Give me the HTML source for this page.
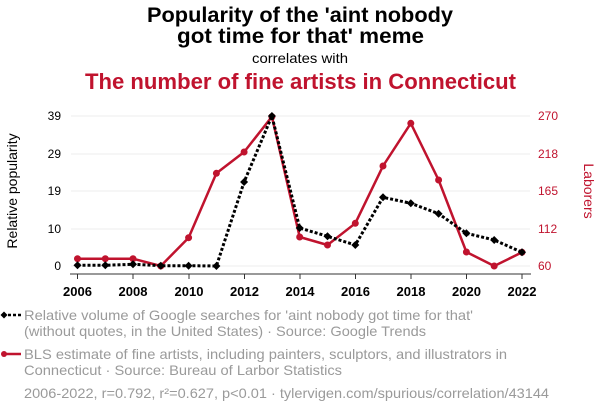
<!DOCTYPE html>
<html><head><meta charset="utf-8"><style>
html,body{margin:0;padding:0;background:#fff;width:600px;height:414px;overflow:hidden}
svg{display:block;font-family:"Liberation Sans",sans-serif}
</style></head><body>
<svg width="600" height="414" viewBox="0 0 600 414" xmlns="http://www.w3.org/2000/svg">
<text x="147" y="22" textLength="306" lengthAdjust="spacingAndGlyphs" font-size="21" font-weight="bold" fill="#000">Popularity of the 'aint nobody</text>
<text x="177" y="43" textLength="247" lengthAdjust="spacingAndGlyphs" font-size="21" font-weight="bold" fill="#000">got time for that' meme</text>
<text x="252" y="63" textLength="96" lengthAdjust="spacingAndGlyphs" font-size="14" fill="#000">correlates with</text>
<text x="85" y="89" textLength="431" lengthAdjust="spacingAndGlyphs" font-size="22" font-weight="bold" fill="#c0132e">The number of fine artists in Connecticut</text>
<g stroke="#eee" stroke-width="1">
<line x1="71" x2="530" y1="116" y2="116"/><line x1="71" x2="530" y1="154" y2="154"/><line x1="71" x2="530" y1="191" y2="191"/><line x1="71" x2="530" y1="229" y2="229"/><line x1="71" x2="530" y1="266" y2="266"/>
</g>
<line x1="70" x2="531" y1="274" y2="274" stroke="#333" stroke-width="1"/>
<g stroke="#333" stroke-width="1">
<line x1="77.5" x2="77.5" y1="274" y2="279"/><line x1="133" x2="133" y1="274" y2="279"/><line x1="189" x2="189" y1="274" y2="279"/><line x1="244.5" x2="244.5" y1="274" y2="279"/><line x1="300" x2="300" y1="274" y2="279"/><line x1="355.5" x2="355.5" y1="274" y2="279"/><line x1="411" x2="411" y1="274" y2="279"/><line x1="466.5" x2="466.5" y1="274" y2="279"/><line x1="522" x2="522" y1="274" y2="279"/>
</g>
<g font-size="13" font-weight="bold" text-anchor="middle" fill="#000">
<text x="77.5" y="296">2006</text><text x="133" y="296">2008</text><text x="189" y="296">2010</text><text x="244.5" y="296">2012</text><text x="300" y="296">2014</text><text x="355.5" y="296">2016</text><text x="411" y="296">2018</text><text x="466.5" y="296">2020</text><text x="522" y="296">2022</text>
</g>
<g font-size="12" text-anchor="end" fill="#000">
<text x="61" y="120">39</text><text x="61" y="158">29</text><text x="61" y="195">19</text><text x="61" y="233">10</text><text x="61" y="270">0</text>
</g>
<g font-size="12" fill="#c0132e">
<text x="538" y="120">270</text><text x="538" y="158">218</text><text x="538" y="195">165</text><text x="538" y="233">112</text><text x="538" y="270">60</text>
</g>
<text transform="translate(17,191) rotate(-90)" text-anchor="middle" font-size="14" fill="#000">Relative popularity</text>
<text transform="translate(584,191) rotate(90)" text-anchor="middle" font-size="14" fill="#c0132e">Laborers</text>
<polyline fill="none" stroke="#c0132e" stroke-width="2.5" stroke-linejoin="round" points="77.5,258.7 105.3,258.7 133,258.7 160.8,266 188.6,237.7 216.4,173.3 244.1,152 271.9,116.7 299.7,237 327.5,245 355.3,223.3 383,166 410.8,123.3 438.6,180 466.4,252 494.2,266 522,252.3"/>
<g fill="#c0132e">
<circle cx="77.5" cy="258.7" r="3.5"/><circle cx="105.3" cy="258.7" r="3.5"/><circle cx="133" cy="258.7" r="3.5"/><circle cx="160.8" cy="266" r="3.5"/><circle cx="188.6" cy="237.7" r="3.5"/><circle cx="216.4" cy="173.3" r="3.5"/><circle cx="244.1" cy="152" r="3.5"/><circle cx="271.9" cy="116.7" r="3.5"/><circle cx="299.7" cy="237" r="3.5"/><circle cx="327.5" cy="245" r="3.5"/><circle cx="355.3" cy="223.3" r="3.5"/><circle cx="383" cy="166" r="3.5"/><circle cx="410.8" cy="123.3" r="3.5"/><circle cx="438.6" cy="180" r="3.5"/><circle cx="466.4" cy="252" r="3.5"/><circle cx="494.2" cy="266" r="3.5"/><circle cx="522" cy="252.3" r="3.5"/>
</g>
<polyline fill="none" stroke="#000" stroke-width="3" stroke-dasharray="3,2" points="77.5,265.3 105.3,265.3 133,264.3 160.8,265.7 188.6,265.7 216.4,266 244.1,182 271.9,116 299.7,228 327.5,236.3 355.3,245 383,197.3 410.8,203.3 438.6,213.7 466.4,233.3 494.2,240 522,252.3"/>
<g fill="#000">
<path d="M77.5 261.3l4 4-4 4-4-4z"/><path d="M105.3 261.3l4 4-4 4-4-4z"/><path d="M133 260.3l4 4-4 4-4-4z"/><path d="M160.8 261.7l4 4-4 4-4-4z"/><path d="M188.6 261.7l4 4-4 4-4-4z"/><path d="M216.4 262l4 4-4 4-4-4z"/><path d="M244.1 178l4 4-4 4-4-4z"/><path d="M271.9 112l4 4-4 4-4-4z"/><path d="M299.7 224l4 4-4 4-4-4z"/><path d="M327.5 232.3l4 4-4 4-4-4z"/><path d="M355.3 241l4 4-4 4-4-4z"/><path d="M383 193.3l4 4-4 4-4-4z"/><path d="M410.8 199.3l4 4-4 4-4-4z"/><path d="M438.6 209.7l4 4-4 4-4-4z"/><path d="M466.4 229.3l4 4-4 4-4-4z"/><path d="M494.2 236l4 4-4 4-4-4z"/><path d="M522 248.3l4 4-4 4-4-4z"/>
</g>
<line x1="3" x2="21" y1="315" y2="315" stroke="#000" stroke-width="2.5" stroke-dasharray="3,2"/>
<path d="M4 311.5l3.5 3.5-3.5 3.5-3.5-3.5z" fill="#000"/>
<line x1="3" x2="21" y1="354" y2="354" stroke="#c0132e" stroke-width="2.5"/>
<circle cx="4" cy="354" r="3" fill="#c0132e"/>
<g font-size="14" fill="#9a9a9a">
<text x="24" y="320" textLength="449" lengthAdjust="spacingAndGlyphs">Relative volume of Google searches for 'aint nobody got time for that'</text>
<text x="24" y="336" textLength="402" lengthAdjust="spacingAndGlyphs">(without quotes, in the United States) · Source: Google Trends</text>
<text x="24" y="359" textLength="483" lengthAdjust="spacingAndGlyphs">BLS estimate of fine artists, including painters, sculptors, and illustrators in</text>
<text x="24" y="375" textLength="318" lengthAdjust="spacingAndGlyphs">Connecticut · Source: Bureau of Larbor Statistics</text>
<text x="24" y="398" textLength="525" lengthAdjust="spacingAndGlyphs">2006-2022, r=0.792, r²=0.627, p&lt;0.01 · tylervigen.com/spurious/correlation/43144</text>
</g>
</svg>
</body></html>
